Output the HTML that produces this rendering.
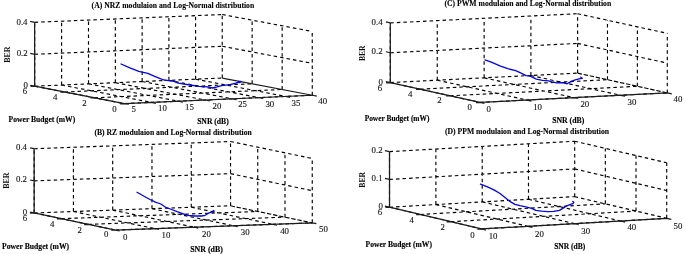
<!DOCTYPE html>
<html><head><meta charset="utf-8"><style>
html,body{margin:0;padding:0;background:#fff;width:685px;height:254px;overflow:hidden}
svg{display:block}
.g{fill:none;stroke:#000;stroke-width:1.15;stroke-dasharray:3.5 3.04}
.a{fill:none;stroke:#1c1c1c;stroke-width:1.25}
.c{fill:none;stroke:#0404dc;stroke-width:1.3;stroke-linejoin:round;stroke-linecap:round}
.t{font-family:"Liberation Serif",serif;font-size:9.2px;fill:#111;stroke:#111;stroke-width:0.12px}
.h{font-family:"Liberation Serif",serif;font-size:8px;font-weight:bold;fill:#000;stroke:#000;stroke-width:0.1px}
.l{font-family:"Liberation Serif",serif;font-size:8px;font-weight:bold;fill:#000;stroke:#000;stroke-width:0.15px}
.b{font-family:"Liberation Serif",serif;font-size:8px;font-weight:bold;fill:#111}

</style></head><body>
<svg width="685" height="254" viewBox="0 0 685 254">
<rect width="685" height="254" fill="#fff"/>
<path d="M34.68 86.23L34.64 22.32M61.63 85.05L61.59 21.2M88.52 83.87L88.49 20.08M115.37 82.7L115.33 18.97M142.17 81.53L142.13 17.86M168.92 80.36L168.88 16.75M195.61 79.19L195.57 15.64M222.26 78.02L222.22 14.53M34.68 86.23L222.26 78.02M34.66 54.27L222.24 46.28M34.64 22.32L222.22 14.53M312.28 95.25L312.24 31.45M282.18 89.49L282.14 25.79M252.17 83.75L252.13 20.15M222.26 78.02L222.22 14.53M222.24 46.28L312.26 63.35M222.22 14.53L312.24 31.45M34.68 86.23L124.38 103.61M61.63 85.05L151.38 102.4M88.52 83.87L178.32 101.21M115.37 82.7L205.21 100.01M142.17 81.53L232.06 98.82M168.92 80.36L258.85 97.62M195.61 79.19L285.59 96.43M124.38 103.61L312.28 95.25M94.38 97.79L282.18 89.49M64.48 92L252.17 83.75M34.68 86.23L222.26 78.02" class="g"/>
<path d="M34.68 86.23L34.64 22.32M34.68 86.23L124.38 103.61M124.38 103.61L312.28 95.25M222.26 78.02L312.28 95.25M124.38 103.61L128.89 104.48M151.38 102.4L155.89 103.28M178.32 101.21L182.83 102.08M205.21 100.01L209.73 100.88M232.06 98.82L236.57 99.68M258.85 97.62L263.37 98.49M285.59 96.43L290.11 97.3M312.28 95.25L316.81 96.11M124.38 103.61L120.22 103.79M94.38 97.79L90.22 97.98M64.48 92L60.32 92.18M34.68 86.23L30.52 86.41M34.68 86.23L30.22 85.36M34.66 54.27L30.2 53.42M34.64 22.32L30.18 21.47" class="a"/>
<path d="M121 64 L129.9 67.9 L138.8 71.4 L147.8 73.4 L154.7 76.4 L159.5 78.3 L164 80 L168.6 80.6 L173.1 81.1 L178.5 83.2 L184 84.2 L190 85 L199 86.4 L208.1 86.9 L212.6 88 L217.1 86.9 L221.7 85.6 L229.8 84.6 L235 83.3 L238.6 82.4 L241.3 81.6 L236.5 82.8 L240.5 81.3" class="c"/>
<circle cx="239.3" cy="82" r="1.2" fill="#0404dc"/>
<text x="25.7" y="87.65" class="t" text-anchor="middle" textLength="4.4" lengthAdjust="spacingAndGlyphs">0</text>
<text x="22.2" y="55.65" class="t" text-anchor="middle" textLength="11" lengthAdjust="spacingAndGlyphs">0.2</text>
<text x="22" y="24.55" class="t" text-anchor="middle" textLength="11" lengthAdjust="spacingAndGlyphs">0.4</text>
<text x="25" y="94.35" class="t" text-anchor="middle" textLength="4.4" lengthAdjust="spacingAndGlyphs">6</text>
<text x="55.3" y="100.15" class="t" text-anchor="middle" textLength="4.4" lengthAdjust="spacingAndGlyphs">4</text>
<text x="84.4" y="106.25" class="t" text-anchor="middle" textLength="4.4" lengthAdjust="spacingAndGlyphs">2</text>
<text x="114.5" y="112.05" class="t" text-anchor="middle" textLength="4.4" lengthAdjust="spacingAndGlyphs">0</text>
<text x="133.8" y="112.45" class="t" text-anchor="middle" textLength="4.4" lengthAdjust="spacingAndGlyphs">5</text>
<text x="162.5" y="110.85" class="t" text-anchor="middle" textLength="8.8" lengthAdjust="spacingAndGlyphs">10</text>
<text x="189.4" y="110.25" class="t" text-anchor="middle" textLength="8.8" lengthAdjust="spacingAndGlyphs">15</text>
<text x="216.9" y="108.95" class="t" text-anchor="middle" textLength="8.8" lengthAdjust="spacingAndGlyphs">20</text>
<text x="242.6" y="107.25" class="t" text-anchor="middle" textLength="8.8" lengthAdjust="spacingAndGlyphs">25</text>
<text x="269.8" y="107.05" class="t" text-anchor="middle" textLength="8.8" lengthAdjust="spacingAndGlyphs">30</text>
<text x="296" y="105.65" class="t" text-anchor="middle" textLength="8.8" lengthAdjust="spacingAndGlyphs">35</text>
<text x="322.7" y="103.85" class="t" text-anchor="middle" textLength="8.8" lengthAdjust="spacingAndGlyphs">40</text>
<path d="M34.18 212.98L34.14 148.72M73.45 211.54L73.4 147.27M112.71 210.11L112.67 145.83M151.99 208.67L151.95 144.39M191.27 207.23L191.23 142.95M230.56 205.8L230.52 141.51M34.18 212.98L230.56 205.8M34.16 180.85L230.54 173.65M34.14 148.72L230.52 141.51M312.28 222.87L312.24 158.48M285.01 217.17L284.97 152.82M257.77 211.48L257.73 147.16M230.56 205.8L230.52 141.51M230.54 173.65L312.26 190.67M230.52 141.51L312.24 158.48M34.18 212.98L115.57 230.05M73.45 211.54L154.9 228.62M112.71 210.11L194.24 227.18M151.99 208.67L233.58 225.74M191.27 207.23L272.93 224.31M115.57 230.05L312.28 222.87M88.42 224.36L285.01 217.17M61.29 218.67L257.77 211.48M34.18 212.98L230.56 205.8" class="g"/>
<path d="M230.56 205.8L312.28 222.87" class="g" style="stroke-dasharray:4.4 1.8"/>
<path d="M34.18 212.98L34.14 148.72M34.18 212.98L115.57 230.05M115.57 230.05L312.28 222.87M115.57 230.05L119.65 230.91M154.9 228.62L158.98 229.47M194.24 227.18L198.32 228.04M233.58 225.74L237.67 226.6M272.93 224.31L277.02 225.16M312.28 222.87L316.38 223.72M115.57 230.05L111.25 230.21M88.42 224.36L84.09 224.52M61.29 218.67L56.96 218.82M34.18 212.98L29.87 213.14M34.18 212.98L30.12 212.13M34.16 180.85L30.1 180M34.14 148.72L30.08 147.87" class="a"/>
<path d="M137 192.2 L144.9 196.7 L150 199.5 L155.4 202.2 L160.9 204 L166.3 207.7 L171.7 209.5 L177.1 211.7 L182.6 213.6 L188 215.4 L194.7 216 L201.6 216 L205.1 215.3 L208.5 213.2 L212.6 211.9 L214 211.2" class="c"/>
<circle cx="213.4" cy="211.1" r="1.15" fill="#0404dc"/>
<text x="25" y="214.55" class="t" text-anchor="middle" textLength="4.4" lengthAdjust="spacingAndGlyphs">0</text>
<text x="21.5" y="182.25" class="t" text-anchor="middle" textLength="11" lengthAdjust="spacingAndGlyphs">0.2</text>
<text x="21.5" y="150.05" class="t" text-anchor="middle" textLength="11" lengthAdjust="spacingAndGlyphs">0.4</text>
<text x="25" y="220.65" class="t" text-anchor="middle" textLength="4.4" lengthAdjust="spacingAndGlyphs">6</text>
<text x="52.2" y="226.95" class="t" text-anchor="middle" textLength="4.4" lengthAdjust="spacingAndGlyphs">4</text>
<text x="79.6" y="232.55" class="t" text-anchor="middle" textLength="4.4" lengthAdjust="spacingAndGlyphs">2</text>
<text x="106.1" y="237.35" class="t" text-anchor="middle" textLength="4.4" lengthAdjust="spacingAndGlyphs">0</text>
<text x="125.1" y="239.55" class="t" text-anchor="middle" textLength="4.4" lengthAdjust="spacingAndGlyphs">0</text>
<text x="166" y="237.85" class="t" text-anchor="middle" textLength="8.8" lengthAdjust="spacingAndGlyphs">10</text>
<text x="206.4" y="237.05" class="t" text-anchor="middle" textLength="8.8" lengthAdjust="spacingAndGlyphs">20</text>
<text x="245.2" y="234.55" class="t" text-anchor="middle" textLength="8.8" lengthAdjust="spacingAndGlyphs">30</text>
<text x="284.6" y="234.05" class="t" text-anchor="middle" textLength="8.8" lengthAdjust="spacingAndGlyphs">40</text>
<text x="323.5" y="232.45" class="t" text-anchor="middle" textLength="8.8" lengthAdjust="spacingAndGlyphs">50</text>
<path d="M390.29 82.56L390.3 22.92M437.25 80.19L437.25 20.61M484.12 77.83L484.12 18.3M530.9 75.47L530.91 16M577.6 73.12L577.61 13.7M390.29 82.56L577.6 73.12M390.3 52.74L577.6 43.41M390.3 22.92L577.61 13.7M667.29 92.9L667.3 33.38M637.36 86.3L637.37 26.81M607.47 79.71L607.47 20.25M577.6 73.12L577.61 13.7M577.6 43.41L667.3 63.14M577.61 13.7L667.3 33.38M390.29 82.56L480.01 102.42M437.25 80.19L526.96 100.03M484.12 77.83L573.82 97.65M530.9 75.47L620.6 95.27M480.01 102.42L667.29 92.9M450.07 95.79L637.36 86.3M420.17 89.17L607.47 79.71M390.29 82.56L577.6 73.12" class="g"/>
<path d="M577.6 73.12L667.29 92.9" class="g" style="stroke-dasharray:4.4 1.8"/>
<path d="M390.29 82.56L390.3 22.92M390.29 82.56L480.01 102.42M480.01 102.42L667.29 92.9M480.01 102.42L484.5 103.42M526.96 100.03L531.45 101.03M573.82 97.65L578.32 98.64M620.6 95.27L625.09 96.26M667.29 92.9L671.79 93.89M480.01 102.42L475.87 102.63M450.07 95.79L445.93 96M420.17 89.17L416.03 89.38M390.29 82.56L386.16 82.77M390.29 82.56L385.82 81.57M390.3 52.74L385.82 51.75M390.3 22.92L385.82 21.93" class="a"/>
<path d="M485 59.9 L491.9 62.4 L499.9 65.9 L507.8 68.7 L515.7 70.7 L520 72.7 L526.1 75.6 L530.2 76.2 L536.4 79.2 L542.5 80.3 L548.7 80.9 L551.7 81.9 L556.8 82.9 L563 82.6 L567.1 83.8 L571.2 81.4 L575.3 79.9 L580 78.6 L582.3 78.3 L580.8 77.2" class="c"/>
<text x="380.7" y="84.55" class="t" text-anchor="middle" textLength="4.4" lengthAdjust="spacingAndGlyphs">0</text>
<text x="377.1" y="54.25" class="t" text-anchor="middle" textLength="11" lengthAdjust="spacingAndGlyphs">0.2</text>
<text x="377.1" y="24.75" class="t" text-anchor="middle" textLength="11" lengthAdjust="spacingAndGlyphs">0.4</text>
<text x="380" y="90.65" class="t" text-anchor="middle" textLength="4.4" lengthAdjust="spacingAndGlyphs">6</text>
<text x="410.3" y="97.35" class="t" text-anchor="middle" textLength="4.4" lengthAdjust="spacingAndGlyphs">4</text>
<text x="439.4" y="103.35" class="t" text-anchor="middle" textLength="4.4" lengthAdjust="spacingAndGlyphs">2</text>
<text x="469.8" y="110.35" class="t" text-anchor="middle" textLength="4.4" lengthAdjust="spacingAndGlyphs">0</text>
<text x="488.8" y="111.65" class="t" text-anchor="middle" textLength="4.4" lengthAdjust="spacingAndGlyphs">0</text>
<text x="537.6" y="109.55" class="t" text-anchor="middle" textLength="8.8" lengthAdjust="spacingAndGlyphs">10</text>
<text x="584.8" y="107.15" class="t" text-anchor="middle" textLength="8.8" lengthAdjust="spacingAndGlyphs">20</text>
<text x="631.9" y="104.65" class="t" text-anchor="middle" textLength="8.8" lengthAdjust="spacingAndGlyphs">30</text>
<text x="677.9" y="102.15" class="t" text-anchor="middle" textLength="8.8" lengthAdjust="spacingAndGlyphs">40</text>
<path d="M389.51 207.22L389.51 151.64M435.89 204.57L435.89 149.02M482.22 201.93L482.21 146.41M528.48 199.28L528.47 143.8M574.69 196.64L574.69 141.2M389.51 207.22L574.69 196.64M389.51 179.43L574.69 168.92M389.51 151.64L574.69 141.2M666.72 218.3L666.71 162.76M636.01 211.07L636 155.57M605.34 203.85L605.33 148.38M574.69 196.64L574.69 141.2M574.69 196.64L666.72 218.3M574.69 168.92L666.71 190.53M574.69 141.2L666.71 162.76M389.51 207.22L481.48 228.94M435.89 204.57L527.87 226.27M482.22 201.93L574.21 223.61M528.48 199.28L620.49 220.95M574.69 196.64L666.72 218.3M481.48 228.94L666.72 218.3M450.79 221.69L636.01 211.07M420.14 214.45L605.34 203.85M389.51 207.22L574.69 196.64" class="g"/>
<path d="M389.51 207.22L389.51 151.64M389.51 207.22L481.48 228.94M481.48 228.94L666.72 218.3M481.48 228.94L486.08 230.03M527.87 226.27L532.48 227.36M574.21 223.61L578.81 224.7M620.49 220.95L625.1 222.04M666.72 218.3L671.32 219.38M481.48 228.94L477.39 229.18M450.79 221.69L446.71 221.93M420.14 214.45L416.05 214.69M389.51 207.22L385.43 207.45M389.51 207.22L384.92 206.14M389.51 179.43L384.92 178.35M389.51 151.64L384.92 150.56" class="a"/>
<path d="M480.5 184.1 L486.9 186.7 L493.9 189.9 L500 193.5 L505 197.4 L509.9 201.4 L514.9 204.4 L519.9 205.7 L525.8 206.9 L531.8 208.4 L535.8 210.4 L541.7 211.1 L547.7 211.6 L553.6 211.4 L559.5 210.4 L563.5 207.9 L566.6 205.9 L570.7 204.3 L573.3 203.3 L573.8 202.3 L572.8 201.5" class="c"/>
<text x="380.7" y="208.55" class="t" text-anchor="middle" textLength="4.4" lengthAdjust="spacingAndGlyphs">0</text>
<text x="377.1" y="180.65" class="t" text-anchor="middle" textLength="11" lengthAdjust="spacingAndGlyphs">0.1</text>
<text x="377.1" y="153.25" class="t" text-anchor="middle" textLength="11" lengthAdjust="spacingAndGlyphs">0.2</text>
<text x="380" y="215.25" class="t" text-anchor="middle" textLength="4.4" lengthAdjust="spacingAndGlyphs">6</text>
<text x="411.7" y="223.05" class="t" text-anchor="middle" textLength="4.4" lengthAdjust="spacingAndGlyphs">4</text>
<text x="442.6" y="230.15" class="t" text-anchor="middle" textLength="4.4" lengthAdjust="spacingAndGlyphs">2</text>
<text x="472.4" y="238.05" class="t" text-anchor="middle" textLength="4.4" lengthAdjust="spacingAndGlyphs">0</text>
<text x="493.1" y="238.75" class="t" text-anchor="middle" textLength="8.8" lengthAdjust="spacingAndGlyphs">10</text>
<text x="539.5" y="236.75" class="t" text-anchor="middle" textLength="8.8" lengthAdjust="spacingAndGlyphs">20</text>
<text x="585.7" y="233.55" class="t" text-anchor="middle" textLength="8.8" lengthAdjust="spacingAndGlyphs">30</text>
<text x="631.8" y="230.15" class="t" text-anchor="middle" textLength="8.8" lengthAdjust="spacingAndGlyphs">40</text>
<text x="677.9" y="228.55" class="t" text-anchor="middle" textLength="8.8" lengthAdjust="spacingAndGlyphs">50</text>
<text x="91.6" y="7.6" class="h" textLength="162.6" lengthAdjust="spacingAndGlyphs">(A) NRZ modulaion and Log-Normal distribution</text>
<text x="94.4" y="134.6" class="h" textLength="157.4" lengthAdjust="spacingAndGlyphs">(B) RZ modulaion and Log-Normal distribution</text>
<text x="444.4" y="6.2" class="h" textLength="166.8" lengthAdjust="spacingAndGlyphs">(C) PWM modulaion and Log-Normal distribution</text>
<text x="444.89" y="133.7" class="h" textLength="164.22" lengthAdjust="spacingAndGlyphs">(D) PPM modulaion and Log-Normal distribution</text>
<text x="8.6" y="121.9" class="l" textLength="66.61" lengthAdjust="spacingAndGlyphs">Power Budget (mW)</text>
<text x="2.08" y="248.8" class="l" textLength="67.04" lengthAdjust="spacingAndGlyphs">Power Budget (mW)</text>
<text x="364.67" y="120.6" class="l" textLength="64.69" lengthAdjust="spacingAndGlyphs">Power Budget (mW)</text>
<text x="365.55" y="246.9" class="l" textLength="66.37" lengthAdjust="spacingAndGlyphs">Power Budget (mW)</text>
<text x="197.14" y="123.8" class="l" textLength="31.63" lengthAdjust="spacingAndGlyphs">SNR (dB)</text>
<text x="190.23" y="251.8" class="l" textLength="32.61" lengthAdjust="spacingAndGlyphs">SNR (dB)</text>
<text x="552.14" y="123.3" class="l" textLength="32.13" lengthAdjust="spacingAndGlyphs">SNR (dB)</text>
<text x="554.13" y="249.3" class="l" textLength="31.24" lengthAdjust="spacingAndGlyphs">SNR (dB)</text>
<text x="0" y="0" class="b" textLength="16.32" lengthAdjust="spacingAndGlyphs" transform="translate(9.7 62.81) rotate(-90)">BER</text>
<text x="0" y="0" class="b" textLength="16.33" lengthAdjust="spacingAndGlyphs" transform="translate(8.8 188.81) rotate(-90)">BER</text>
<text x="0" y="0" class="b" textLength="15.61" lengthAdjust="spacingAndGlyphs" transform="translate(364.9 61.07) rotate(-90)">BER</text>
<text x="0" y="0" class="b" textLength="15.72" lengthAdjust="spacingAndGlyphs" transform="translate(364.7 187.69) rotate(-90)">BER</text>
</svg>
</body></html>
